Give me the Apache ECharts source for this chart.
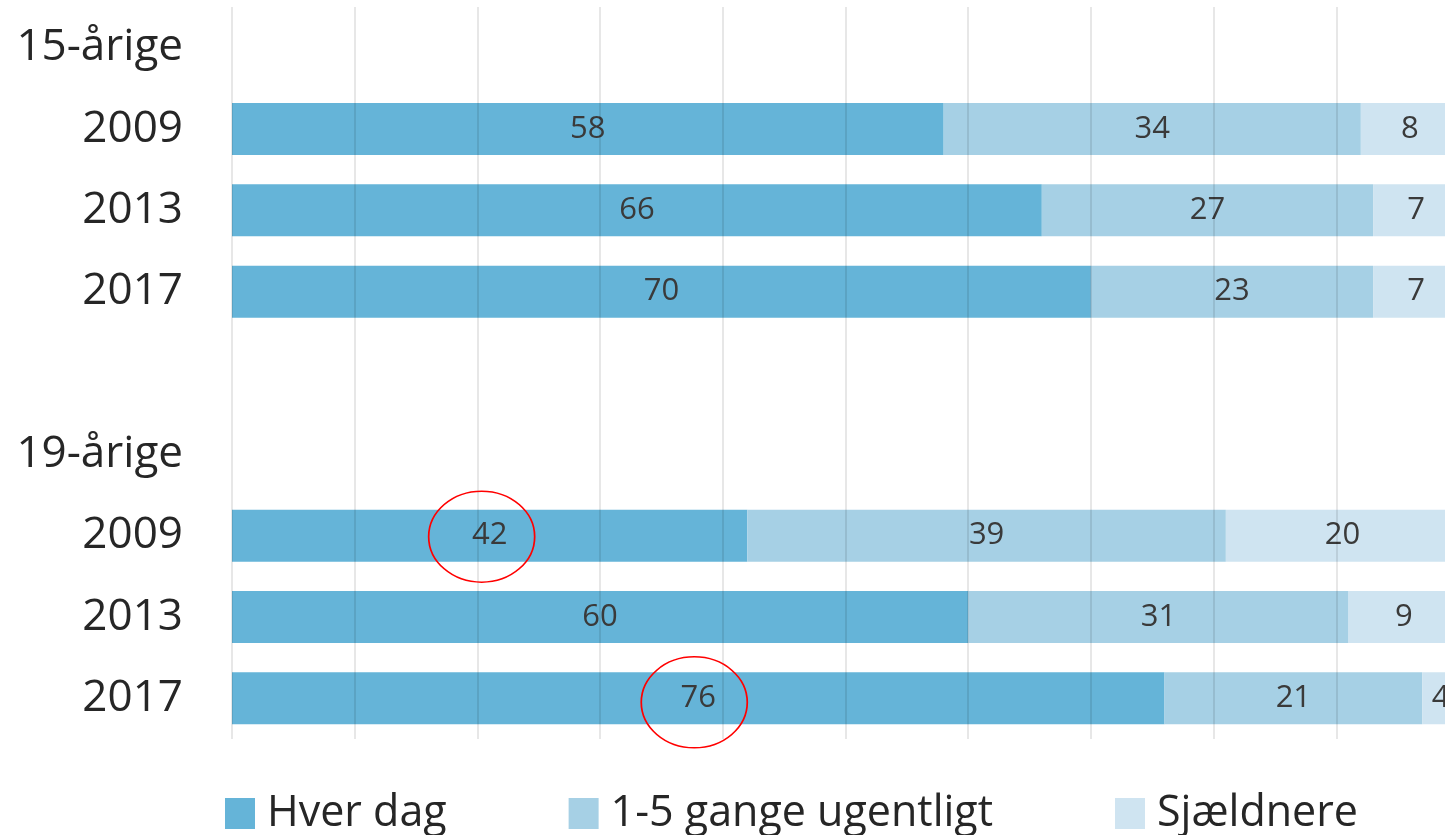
<!DOCTYPE html>
<html>
<head>
<meta charset="utf-8">
<title>Hver dag / 1-5 gange ugentligt / Sjældnere</title>
<script src="https://cdn.jsdelivr.net/npm/echarts@6/dist/echarts.min.js"></script>
<style>
  html, body { margin: 0; padding: 0; background: #fff; overflow: hidden; }
  /* the original is cropped on the right: the 100 line sits just past the window edge */
  #chart { width: 1460px; height: 835px; }
</style>
</head>
<body>
<div id="chart"></div>
<script>
// rows, top to bottom (group headers and the spacer carry no values)
const rows = ['15-årige', '2009', '2013', '2017', '', '19-årige', '2009', '2013', '2017'];

const hverDag    = [null, 58, 66, 70, null, null, 42, 60, 76];
const ugentligt  = [null, 34, 27, 23, null, null, 39, 31, 21];
const sjaeldnere = [null, 8, 7, 7, null, null, 20, 9, 4];

const seriesNames = ['Hver dag', '1-5 gange ugentligt', 'Sjældnere'];
const xTicks = [0, 10, 20, 30, 40, 50, 60, 70, 80, 90, 100];

// rows whose "Hver dag" value is circled in red
const circledRows = [6, 8];

const font = "'Open Sans', 'Liberation Sans', sans-serif";
const colors = ['#65b4d8', '#a6d0e5', '#cfe4f1'];

let chart = echarts.init(document.getElementById('chart'));

function barSeries(name, values, color) {
  return {
    name     : name,
    type     : 'bar',
    stack    : 'all',
    data     : values,
    barWidth : 52,
    itemStyle: { color: color },
    label    : {
      show      : true,
      position  : 'inside',
      color     : '#3a3a3a',
      fontSize  : 31,
      fontFamily: font
    }
  };
}

let series = [
  barSeries(seriesNames[0], hverDag, colors[0]),
  barSeries(seriesNames[1], ugentligt, colors[1]),
  barSeries(seriesNames[2], sjaeldnere, colors[2])
];

// hand-drawn looking ellipses, centred roughly on the bar labels
series[0].markPoint = {
  symbol    : 'circle',
  symbolSize: [106, 91],
  itemStyle : { color: 'rgba(0,0,0,0)', borderColor: '#ff0000', borderWidth: 1.6 },
  label     : { show: false },
  silent    : true,
  data      : circledRows.map(i => ({
    coord       : [hverDag[i] / 2, i],
    symbolOffset: i === 8 ? [-4, 4] : [-8, 1]
  }))
};

chart.setOption({
  animation: false,
  grid     : { left: 232, right: 1, top: 7, bottom: 96 },
  legend   : {
    data      : seriesNames,
    left      : 220,
    top       : 787,
    icon      : 'rect',
    itemWidth : 30,
    itemHeight: 31,
    itemGap   : 122,
    textStyle : {
      fontSize  : 43,
      fontFamily: font,
      color     : '#262626',
      padding   : [0, 0, 0, 7]
    }
  },
  xAxis: {
    type     : 'value',
    min      : xTicks[0],
    max      : xTicks[xTicks.length - 1],
    interval : xTicks[1] - xTicks[0],
    z        : 5,
    axisLine : { show: false },
    axisTick : { show: false },
    axisLabel: { show: false },
    splitLine: { lineStyle: { color: 'rgba(0,0,0,0.13)', width: 1.5 } }
  },
  yAxis: {
    type     : 'category',
    data     : rows,
    inverse  : true,
    axisLine : { show: false },
    axisTick : { show: false },
    axisLabel: {
      margin    : 49,
      fontSize  : 44,
      fontFamily: font,
      color     : '#262626'
    }
  },
  series: series
});
</script>
</body>
</html>
